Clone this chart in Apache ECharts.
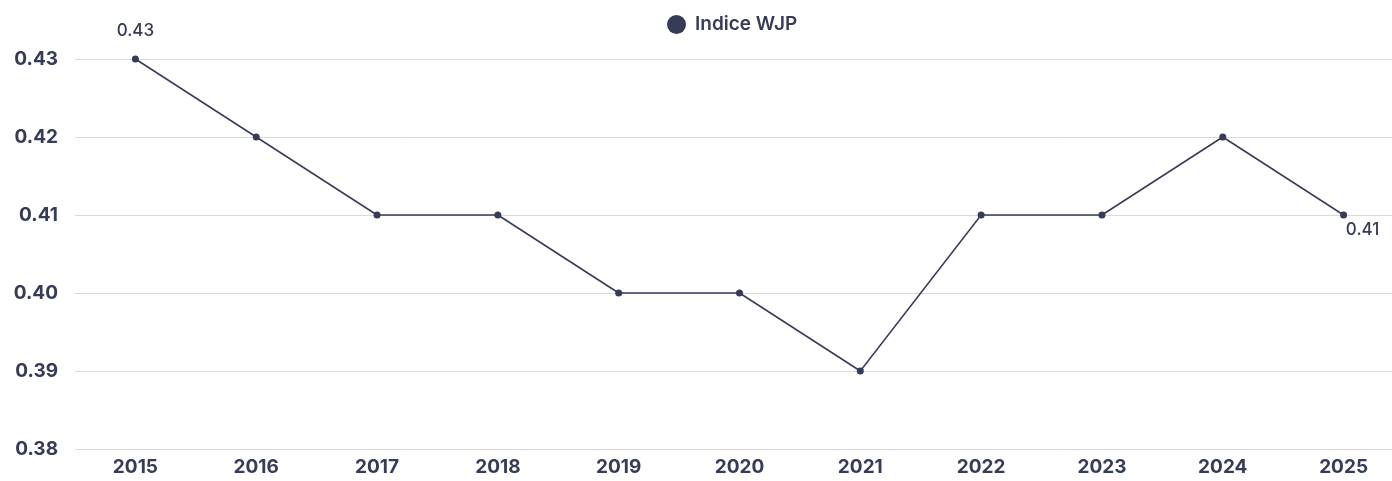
<!DOCTYPE html>
<html>
<head>
<meta charset="utf-8">
<script src="https://cdn.jsdelivr.net/npm/echarts@6/dist/echarts.min.js"></script>
<style>
html,body{margin:0;padding:0;background:#fff;}
#chart{width:1392px;height:481px;}
</style>
</head>
<body>
<div id="chart"></div>
<script>
const years = ['2015','2016','2017','2018','2019','2020','2021','2022','2023','2024','2025'];
const indiceWJP = [0.43,0.42,0.41,0.41,0.40,0.40,0.39,0.41,0.41,0.42,0.41];
const seriesName = 'Indice WJP';
const yMin = 0.38, yMax = 0.43, yStep = 0.01;

const color = '#363b57';
const font = 'Inter, "Noto Sans", sans-serif';
const lastIdx = indiceWJP.length - 1;

const chart = echarts.init(document.getElementById('chart'), null, {renderer:'canvas'});
chart.setOption({
  animation:false,
  legend:{
    data:[seriesName],
    left:662, top:10,
    icon:'circle',
    itemWidth:19, itemHeight:19, itemGap:8,
    textStyle:{color:color, fontFamily:font, fontSize:19, fontWeight:600, padding:[0,0,0,4]}
  },
  grid:{left:75, width:1329, top:59, height:390, containLabel:false, outerBoundsMode:'none'},
  xAxis:{
    type:'category', data:years, boundaryGap:true,
    axisLine:{show:false}, axisTick:{show:false},
    axisLabel:{color:color, fontFamily:font, fontSize:19, fontWeight:'bold', margin:9}
  },
  yAxis:{
    type:'value', min:yMin, max:yMax, interval:yStep,
    axisLine:{show:false}, axisTick:{show:false},
    axisLabel:{color:color, fontFamily:font, fontSize:19, fontWeight:'bold', margin:17,
      formatter:v=>v.toFixed(2)},
    splitLine:{lineStyle:{color:'#d9d9d9', width:1}}
  },
  series:[{
    name:seriesName, type:'line', data:indiceWJP.map((v,i)=>{
      if(i===0) return {value:v, label:{show:true, position:'top', distance:16}};
      if(i===lastIdx) return {value:v, label:{show:true, position:'bottom', distance:3, offset:[19,0]}};
      return v;
    }),
    symbol:'circle', symbolSize:7,
    itemStyle:{color:color},
    lineStyle:{color:color, width:1.5},
    label:{show:false, color:color, fontFamily:font, fontSize:17, fontWeight:500,
      formatter:p=>p.value.toFixed(2)}
  }]
});
</script>
</body>
</html>
